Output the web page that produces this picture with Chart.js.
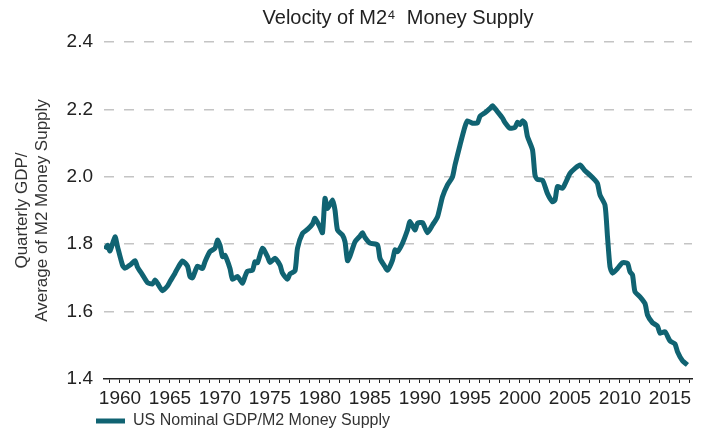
<!DOCTYPE html>
<html>
<head>
<meta charset="utf-8">
<script src="https://cdn.jsdelivr.net/npm/chart.js@4"></script>
<style>
  html, body { margin: 0; padding: 0; background: #fff; }
  #wrap { width: 707px; height: 433px; }
</style>
</head>
<body>
<div id="wrap"><canvas id="chart" width="707" height="433"></canvas></div>
<script>
// quarters (decimal year) and M2 velocity
const quarters = [
  1958.5, 1958.75, 1959.0, 1959.5, 1959.75, 1960.25, 1960.5, 1961.0, 1961.5, 1961.75,
  1962.25, 1962.75, 1963.25, 1963.5, 1963.75, 1964.25, 1964.75, 1965.0, 1965.5, 1965.75,
  1966.25, 1966.75, 1967.0, 1967.25, 1967.75, 1968.25, 1968.5, 1969.0, 1969.5, 1969.75,
  1970.0, 1970.25, 1970.5, 1971.0, 1971.25, 1971.75, 1972.25, 1972.5, 1972.75, 1973.25,
  1973.5, 1973.75, 1974.25, 1974.75, 1975.0, 1975.5, 1976.0, 1976.25, 1976.75, 1977.0,
  1977.5, 1977.75, 1978.25, 1978.75, 1979.25, 1979.5, 1980.0, 1980.25, 1980.5, 1980.75,
  1981.25, 1981.5, 1981.75, 1982.25, 1982.5, 1982.75, 1983.0, 1983.5, 1984.0, 1984.25,
  1984.5, 1985.0, 1985.75, 1986.0, 1986.5, 1986.75, 1987.25, 1987.5, 1987.75, 1988.25,
  1988.75, 1989.0, 1989.5, 1989.75, 1990.25, 1990.75, 1991.25, 1991.75, 1992.25, 1992.75,
  1993.25, 1993.5, 1994.0, 1994.5, 1994.75, 1995.25, 1995.75, 1996.0, 1996.5, 1997.0,
  1997.25, 1997.75, 1998.25, 1998.5, 1999.0, 1999.5, 1999.75, 2000.0, 2000.25, 2000.5,
  2000.75, 2001.25, 2001.5, 2001.75, 2002.25, 2002.75, 2003.25, 2003.5, 2003.75, 2004.25,
  2004.5, 2005.0, 2005.5, 2006.0, 2006.5, 2007.0, 2007.5, 2007.75, 2008.0, 2008.5,
  2008.75, 2009.0, 2009.25, 2009.75, 2010.25, 2010.75, 2011.0, 2011.25, 2011.5, 2012.0,
  2012.5, 2012.75, 2013.25, 2013.75, 2014.0, 2014.5, 2015.0, 2015.5, 2015.75, 2016.25,
  2016.75
];
const velocity = [
  1.785, 1.797, 1.780, 1.822, 1.793, 1.738, 1.729, 1.738, 1.751, 1.732,
  1.709, 1.686, 1.682, 1.694, 1.684, 1.662, 1.676, 1.689, 1.714, 1.728,
  1.750, 1.735, 1.704, 1.700, 1.735, 1.728, 1.748, 1.778, 1.788, 1.812,
  1.797, 1.763, 1.767, 1.728, 1.696, 1.704, 1.684, 1.704, 1.720, 1.723,
  1.748, 1.745, 1.788, 1.763, 1.746, 1.758, 1.738, 1.714, 1.696, 1.712,
  1.721, 1.788, 1.832, 1.844, 1.860, 1.877, 1.850, 1.834, 1.936, 1.906,
  1.931, 1.901, 1.842, 1.827, 1.807, 1.751, 1.765, 1.807, 1.824, 1.834,
  1.820, 1.803, 1.798, 1.758, 1.733, 1.723, 1.753, 1.783, 1.778, 1.803,
  1.842, 1.867, 1.842, 1.862, 1.864, 1.834, 1.857, 1.881, 1.941, 1.976,
  2.000, 2.035, 2.094, 2.149, 2.166, 2.159, 2.160, 2.180, 2.190, 2.203,
  2.211, 2.193, 2.174, 2.161, 2.144, 2.147, 2.162, 2.155, 2.166, 2.159,
  2.119, 2.080, 2.005, 1.992, 1.990, 1.950, 1.926, 1.931, 1.971, 1.966,
  1.979, 2.010, 2.025, 2.035, 2.018, 2.005, 1.990, 1.980, 1.946, 1.916,
  1.822, 1.733, 1.714, 1.728, 1.745, 1.743, 1.718, 1.709, 1.659, 1.644,
  1.624, 1.590, 1.567, 1.557, 1.536, 1.540, 1.513, 1.504, 1.481, 1.454,
  1.442
];
const yTicks = [1.4, 1.6, 1.8, 2.0, 2.2, 2.4];
const seriesName = 'US Nominal GDP/M2 Money Supply';

const lineColor = '#106372';
Chart.defaults.font.family = '"Liberation Sans", Arial, sans-serif';
Chart.defaults.color = '#222';

// put the legend where the original has it
const legendPlace = {
  id: 'legendPlace',
  afterLayout(chart) {
    chart.legend.left = 96;
    chart.legend.top = 413;
  }
};

new Chart(document.getElementById('chart'), {
  type: 'line',
  data: {
    datasets: [{
      label: seriesName,
      data: quarters.map((q, i) => ({ x: q, y: velocity[i] })),
      borderColor: lineColor,
      backgroundColor: lineColor,
      borderWidth: 5,
      pointRadius: 0,
      tension: 0.2,
      fill: false
    }]
  },
  options: {
    responsive: false,
    animation: false,
    layout: { padding: { left: 0, right: 15, top: 0, bottom: 0 } },
    plugins: {
      title: {
        display: true,
        text: 'Velocity of M2\u2074  Money Supply',
        font: { size: 20, weight: 'normal' },
        color: '#222',
        fullSize: false,
        padding: { top: 6, bottom: 12 }
      },
      legend: {
        position: 'bottom',
        align: 'start',
        labels: {
          boxWidth: 29,
          boxHeight: 5,
          padding: 0,
          color: '#333',
          font: { size: 16 },
          generateLabels: chart => Chart.defaults.plugins.legend.labels.generateLabels(chart)
            .map(l => ({ ...l, lineWidth: 0, fillStyle: lineColor }))
        }
      },
      tooltip: { enabled: false }
    },
    scales: {
      x: {
        type: 'linear',
        min: 1958.4,
        max: 2017.2,
        afterFit: s => { s.height = 28; },
        border: { display: true, color: '#222', width: 1.5 },
        grid: { drawOnChartArea: false, drawTicks: true, tickLength: 4, color: '#222' },
        ticks: {
          stepSize: 1,
          autoSkip: false,
          includeBounds: false,
          maxRotation: 0,
          padding: 4,
          font: { size: 19 },
          color: '#222',
          callback: v => (v % 5 === 0 ? String(v) : '')
        }
      },
      y: {
        min: yTicks[0],
        max: yTicks[yTicks.length - 1],
        afterFit: s => { s.width = 104; },
        border: { display: false, dash: [10, 10] },
        grid: {
          drawTicks: false,
          lineWidth: 1.5,
          color: c => (Math.abs(c.tick.value - 1.4) < 1e-6 ? 'rgba(0,0,0,0)' : '#c4c4c4')
        },
        ticks: {
          stepSize: 0.2,
          padding: 11,
          font: { size: 19 },
          color: '#222',
          callback: v => Number(v).toFixed(1)
        },
        title: {
          display: true,
          text: ['Quarterly GDP/', 'Average of M2 Money Supply'],
          font: { size: 17 },
          color: '#333',
          padding: { top: 12, bottom: 0 }
        }
      }
    }
  },
  plugins: [legendPlace]
});
</script>
</body>
</html>
